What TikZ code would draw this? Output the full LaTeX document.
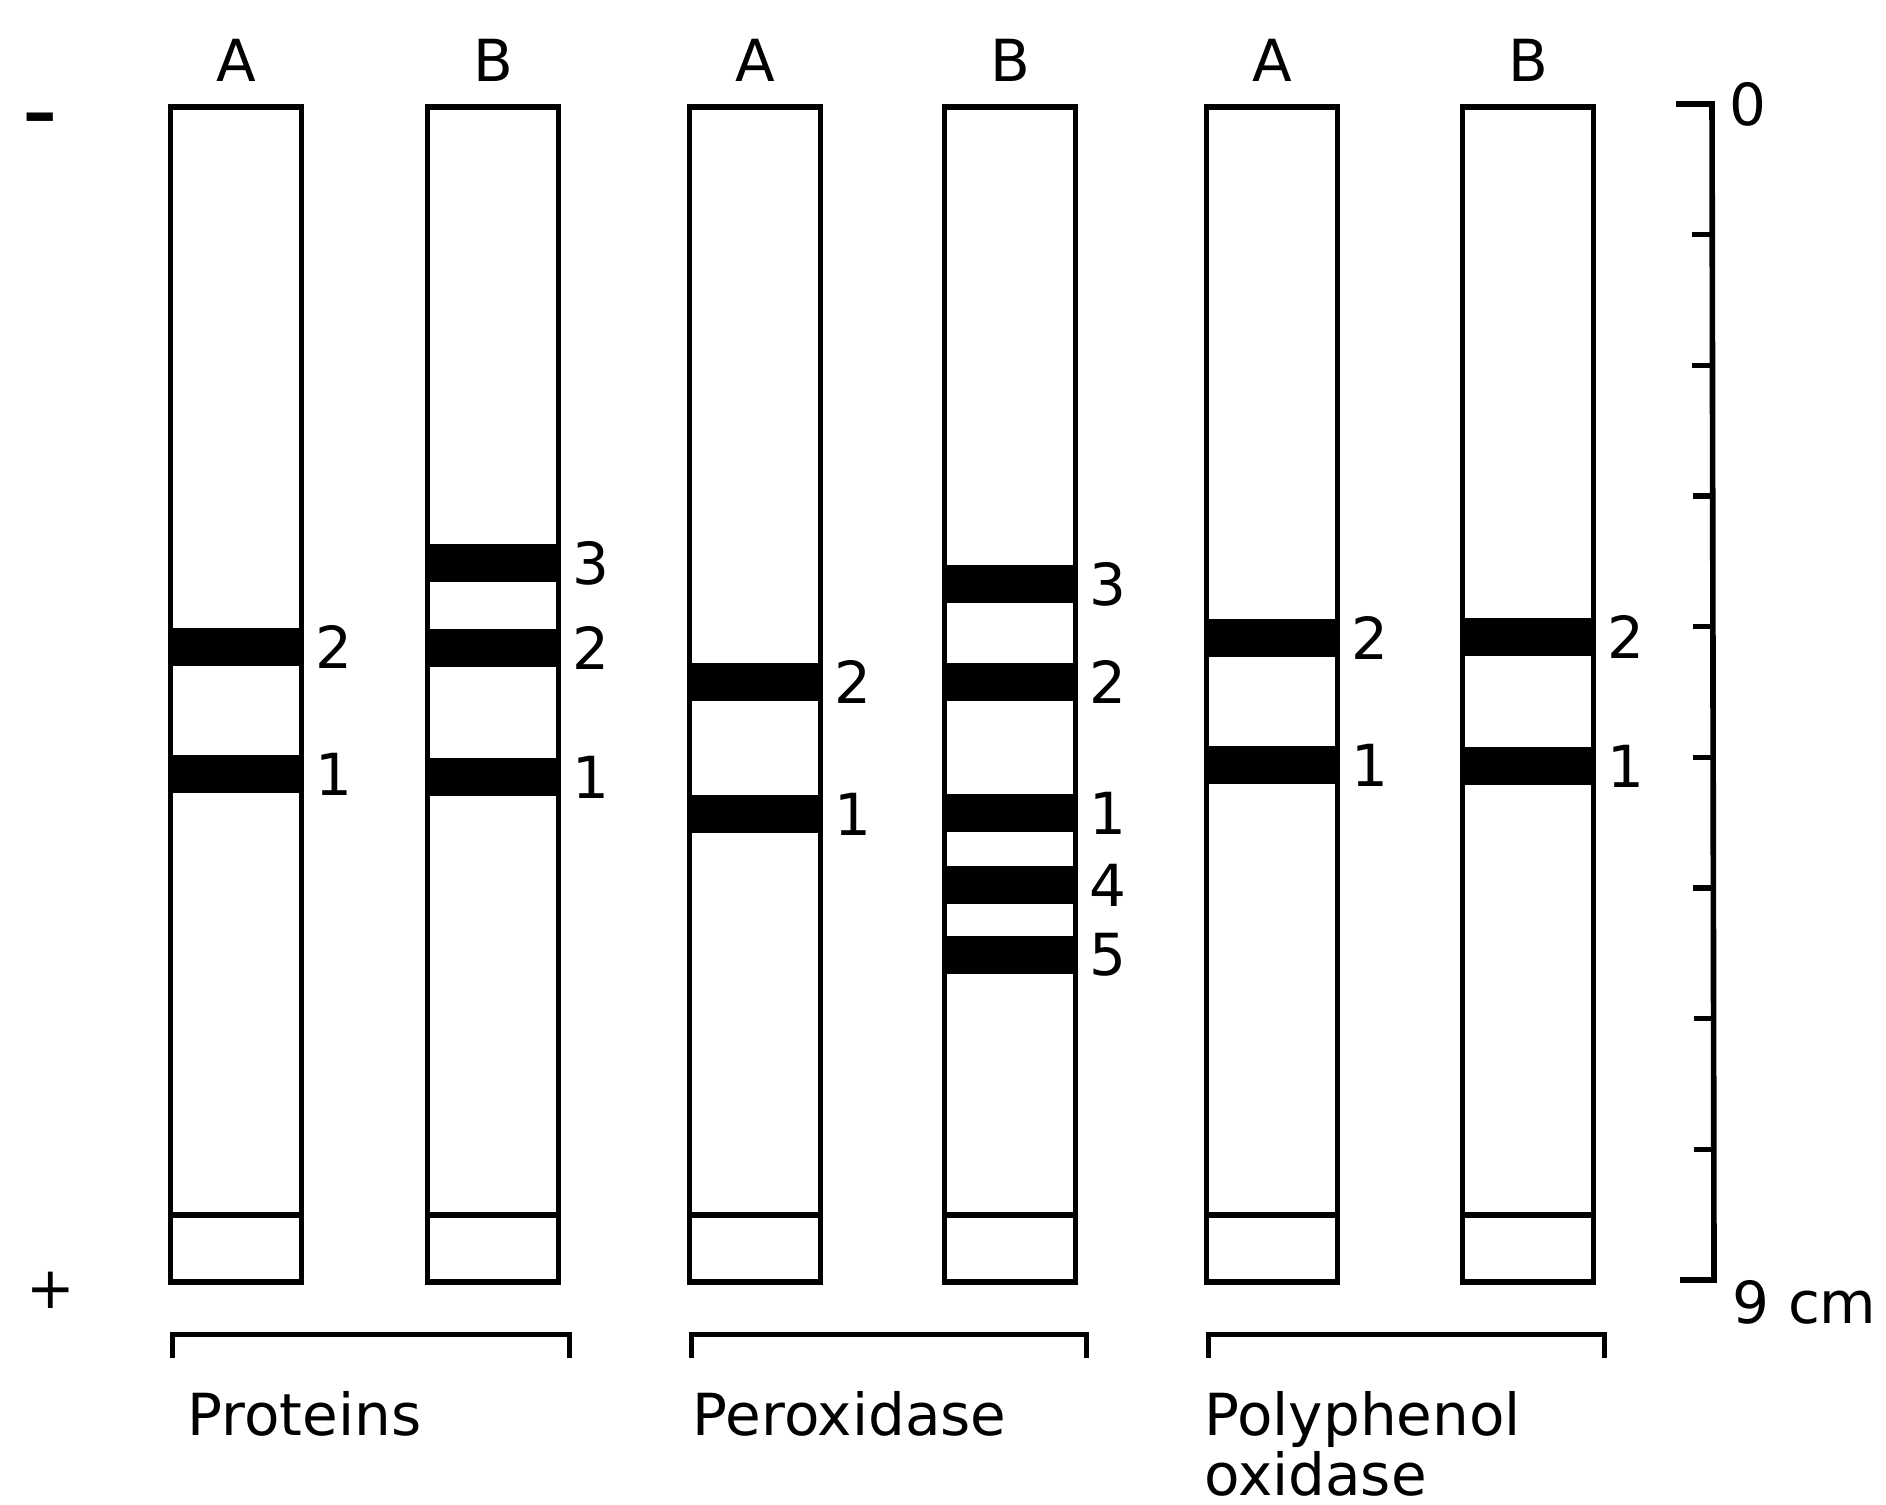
\documentclass[tikz,border=0pt]{standalone}
\usepackage{fontspec}
\setmainfont{DejaVu Sans}
\usepackage{tikz}
\usetikzlibrary{positioning,calc}

\tikzset{
  lane/.style={draw, line width=1.6pt, minimum width=1.31cm, minimum height=11.75cm, inner sep=0pt},
  well/.style={draw, line width=1.6pt, minimum width=1.31cm, minimum height=0.67cm, inner sep=0pt, anchor=south},
  band/.style={fill=black, minimum width=1.31cm, minimum height=0.38cm, inner sep=0pt},
  bandnum/.style={inner sep=0pt, font=\fontsize{16.5}{19}\selectfont},
  lanehead/.style={inner sep=0pt, font=\fontsize{16.5}{19}\selectfont},
  grouplabel/.style={inner sep=0pt, anchor=north west, align=left, font=\fontsize{16.5}{17}\selectfont},
  bracket/.style={line width=1.4pt},
  ruler/.style={line width=1.6pt}
}

\begin{document}
\begin{tikzpicture}
  \useasboundingbox (0,0) rectangle (18.86,-15.05);

  % strips
  \node[lane] (protA) at (2.36,-6.945) {};
  \node[lane] (protB) at (4.93,-6.945) {};
  \node[lane] (peroxA) at (7.55,-6.945) {};
  \node[lane] (peroxB) at (10.10,-6.945) {};
  \node[lane] (ppoA) at (12.72,-6.945) {};
  \node[lane] (ppoB) at (15.28,-6.945) {};

  \node[well] (protAw) at (protA.south) {};
  \node[well] (protBw) at (protB.south) {};
  \node[well] (peroxAw) at (peroxA.south) {};
  \node[well] (peroxBw) at (peroxB.south) {};
  \node[well] (ppoAw) at (ppoA.south) {};
  \node[well] (ppoBw) at (ppoB.south) {};

  \node[lanehead, above=0.22cm of protA] (protAh) {A};
  \node[lanehead, above=0.22cm of protB] (protBh) {B};
  \node[lanehead, above=0.22cm of peroxA] (peroxAh) {A};
  \node[lanehead, above=0.22cm of peroxB] (peroxBh) {B};
  \node[lanehead, above=0.22cm of ppoA] (ppoAh) {A};
  \node[lanehead, above=0.22cm of ppoB] (ppoBh) {B};

  % bands
  \node[band] (protA2) at (2.36,-6.47) {};
  \node[bandnum, right=0.13cm of protA2] {2};
  \node[band] (protA1) at (2.36,-7.74) {};
  \node[bandnum, right=0.13cm of protA1] {1};

  \node[band] (protB3) at (4.93,-5.63) {};
  \node[bandnum, right=0.13cm of protB3] {3};
  \node[band] (protB2) at (4.93,-6.48) {};
  \node[bandnum, right=0.13cm of protB2] {2};
  \node[band] (protB1) at (4.93,-7.77) {};
  \node[bandnum, right=0.13cm of protB1] {1};

  \node[band] (peroxA2) at (7.55,-6.82) {};
  \node[bandnum, right=0.13cm of peroxA2] {2};
  \node[band] (peroxA1) at (7.55,-8.14) {};
  \node[bandnum, right=0.13cm of peroxA1] {1};

  \node[band] (peroxB3) at (10.10,-5.84) {};
  \node[bandnum, right=0.13cm of peroxB3] {3};
  \node[band] (peroxB2) at (10.10,-6.82) {};
  \node[bandnum, right=0.13cm of peroxB2] {2};
  \node[band] (peroxB1) at (10.10,-8.13) {};
  \node[bandnum, right=0.13cm of peroxB1] {1};
  \node[band] (peroxB4) at (10.10,-8.85) {};
  \node[bandnum, right=0.13cm of peroxB4] {4};
  \node[band] (peroxB5) at (10.10,-9.55) {};
  \node[bandnum, right=0.13cm of peroxB5] {5};

  \node[band] (ppoA2) at (12.72,-6.38) {};
  \node[bandnum, right=0.13cm of ppoA2] {2};
  \node[band] (ppoA1) at (12.72,-7.65) {};
  \node[bandnum, right=0.13cm of ppoA1] {1};

  \node[band] (ppoB2) at (15.28,-6.37) {};
  \node[bandnum, right=0.13cm of ppoB2] {2};
  \node[band] (ppoB1) at (15.28,-7.66) {};
  \node[bandnum, right=0.13cm of ppoB1] {1};

  % poles
  \node[lanehead, font=\fontsize{19}{21}\selectfont\bfseries] (minus) at (0.40,-1.24) {–};
  \node[lanehead] (plus) at (0.51,-12.90) {+};

  % groups
  \draw[bracket] ([xshift=0.05cm, yshift=-0.73cm]protA.south west) -- ([xshift=0.05cm, yshift=-0.5cm]protA.south west)
    -- ([xshift=0.08cm, yshift=-0.5cm]protB.south east) -- ([xshift=0.08cm, yshift=-0.73cm]protB.south east);
  \draw[bracket] ([xshift=0.05cm, yshift=-0.73cm]peroxA.south west) -- ([xshift=0.05cm, yshift=-0.5cm]peroxA.south west)
    -- ([xshift=0.08cm, yshift=-0.5cm]peroxB.south east) -- ([xshift=0.08cm, yshift=-0.73cm]peroxB.south east);
  \draw[bracket] ([xshift=0.05cm, yshift=-0.73cm]ppoA.south west) -- ([xshift=0.05cm, yshift=-0.5cm]ppoA.south west)
    -- ([xshift=0.08cm, yshift=-0.5cm]ppoB.south east) -- ([xshift=0.08cm, yshift=-0.73cm]ppoB.south east);

  \node[grouplabel] (prot) at ([xshift=0.195cm, yshift=-1.06cm]protA.south west) {Proteins};
  \node[grouplabel] (perox) at ([xshift=0.055cm, yshift=-1.06cm]peroxA.south west) {Peroxidase};
  \node[grouplabel] (ppo) at ([yshift=-1.06cm]ppoA.south west) {Polyphenol\\oxidase};

  % scale
  \coordinate (r0) at (17.12,-1.04);
  \coordinate (r9) at (17.14,-12.80);
  \draw[ruler] ([xshift=-0.36cm]r0) -- (r0) -- (r9) -- ([xshift=-0.34cm]r9);
  \foreach \k in {1,...,8}
    \draw[ruler] ($(r0)!\k/9!(r9)$) -- ++(-0.2,0);
  \node[bandnum, anchor=west] (zero) at ([xshift=0.17cm]r0) {0};
  \node[bandnum, anchor=north west] (nine) at ([xshift=0.18cm, yshift=0cm]r9) {9 cm};
\end{tikzpicture}
\end{document}
